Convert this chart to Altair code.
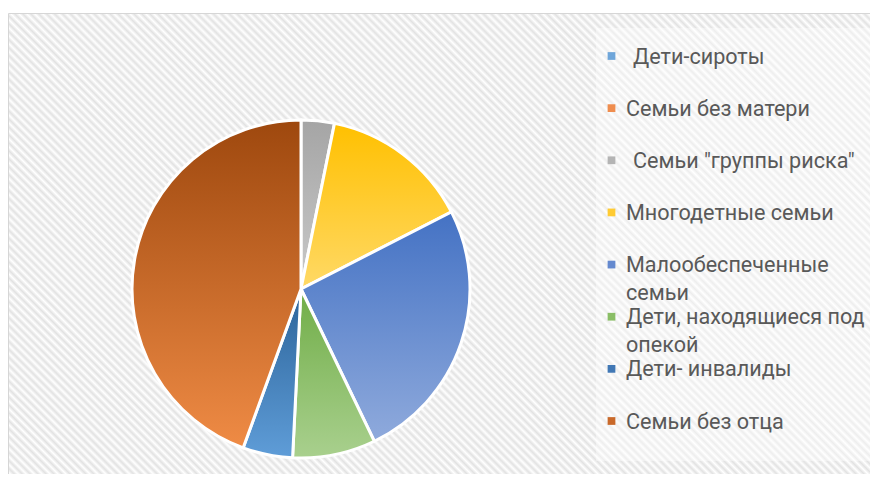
import altair as alt
import pandas as pd

# ---- data ----
categories = ["Дети-сироты", "Семьи без матери", 'Семьи "группы риска"', "Многодетные семьи",
              "Малообеспеченные семьи", "Дети, находящиеся под опекой", "Дети- инвалиды", "Семьи без отца"]
values = [0, 0, 2, 9, 16, 5, 3, 28]
legend_labels = ["Дети-сироты", "Семьи без матери", "Семьи \"группы риска\"", "Многодетные семьи",
                 "Малообеспеченные\nсемьи", "Дети, находящиеся под\nопекой", "Дети- инвалиды", "Семьи без отца"]
label_indent = [1, 0, 1, 0, 0, 0, 0, 0]  # labels written with a leading space in the original
top_colors = ["#5B9BD5", "#ED7D31", "#A5A5A5", "#FFC000", "#4472C4", "#70AD47", "#2B6399", "#9E480E"]
bottom_colors = ["#9DC3E6", "#F4B183", "#C9C9C9", "#FFD966", "#8FAADC", "#A9D08E", "#5F9DD8", "#EF8B45"]
legend_colors = ["#6FA6DA", "#EF8D4E", "#B4B4B4", "#FFCB33", "#6489CF", "#8ABE66", "#4178B5", "#C9692A"]

total = sum(values)
starts, ends, acc = [], [], 0
for v in values:
    starts.append(acc)
    acc += v
    ends.append(acc)

df = pd.DataFrame({"idx": list(range(len(categories))), "category": categories, "value": values,
                   "label": legend_labels, "indent": label_indent, "start": starts, "end": ends})

WIDTH, HEIGHT = 862, 466

# ---- striped background (diagonal stripes via a multi-stop gradient) ----
bx1, by1, bx2, by2 = 0.5, 5.5, 868.0, 472.0
W, H = bx2 - bx1, by2 - by1
a = (1 / H + 1 / W) / (1 / H ** 2 + 1 / W ** 2)
gx, gy = a / H, -a / W
span = (W + H) / 2 ** 0.5
period = 5.6
n = int(span / period)
stripe_stops = []
for k in range(2 * n + 1):
    stripe_stops.append({"offset": round(k / (2 * n), 5), "color": "#ffffff" if k % 2 == 0 else "#e2e2e2"})
stripe_fill = {"gradient": "linear", "x1": 0, "y1": 1, "x2": round(gx, 5), "y2": round(1 + gy, 5),
               "stops": stripe_stops}

one = pd.DataFrame({"a": [0]})
background = alt.Chart(one).mark_rect(fill=stripe_fill, stroke="#d6d6d6", strokeWidth=1).encode(
    x=alt.value(bx1), x2=alt.value(bx2), y=alt.value(by1), y2=alt.value(by2))

legend_box = alt.Chart(one).mark_rect(fill="white", opacity=0.4).encode(
    x=alt.value(588), x2=alt.value(880), y=alt.value(20), y2=alt.value(453))

# ---- pie slices ----
theta_scale = alt.Scale(domain=[0, total], range=[0, 6.283185307179586])
slices = []
for i, v in enumerate(values):
    if v == 0:
        continue
    grad = {"gradient": "linear", "x1": 0, "y1": 0, "x2": 0, "y2": 1,
            "stops": [{"offset": 0, "color": top_colors[i]}, {"offset": 1, "color": bottom_colors[i]}]}
    slices.append(
        alt.Chart(df).transform_filter(alt.datum.idx == i).mark_arc(
            outerRadius=169, fill=grad, stroke="white", strokeWidth=3
        ).encode(
            theta=alt.Theta("start:Q", scale=theta_scale),
            theta2="end:Q",
            x=alt.value(293), y=alt.value(281),
        )
    )

# ---- legend ----
ly = alt.Y("idx:Q", scale=alt.Scale(domain=[0, 7], range=[48, 413]), axis=None)
leg_sq = alt.Chart(df).mark_square(size=60, opacity=1).encode(
    x=alt.value(603.5), y=ly,
    fill=alt.Fill("category:N", scale=alt.Scale(domain=categories, range=legend_colors), legend=None),
)
text_style = dict(align="left", baseline="alphabetic", dy=7.5, font="Roboto", fontSize=21.6,
                  color="#595959", lineBreak="\n", lineHeight=28)
leg_tx = alt.Chart(df).transform_filter(alt.datum.indent == 0).mark_text(**text_style).encode(
    x=alt.value(618), y=ly, text="label:N")
leg_tx_ind = alt.Chart(df).transform_filter(alt.datum.indent == 1).mark_text(**text_style).encode(
    x=alt.value(625), y=ly, text="label:N")

chart = alt.layer(background, legend_box, *slices, leg_sq, leg_tx, leg_tx_ind).properties(
    width=WIDTH, height=HEIGHT, padding=0, autosize="none", background="white"
).configure_view(stroke=None)

chart.save("out.html", embed_options={"renderer": "svg", "actions": False})
